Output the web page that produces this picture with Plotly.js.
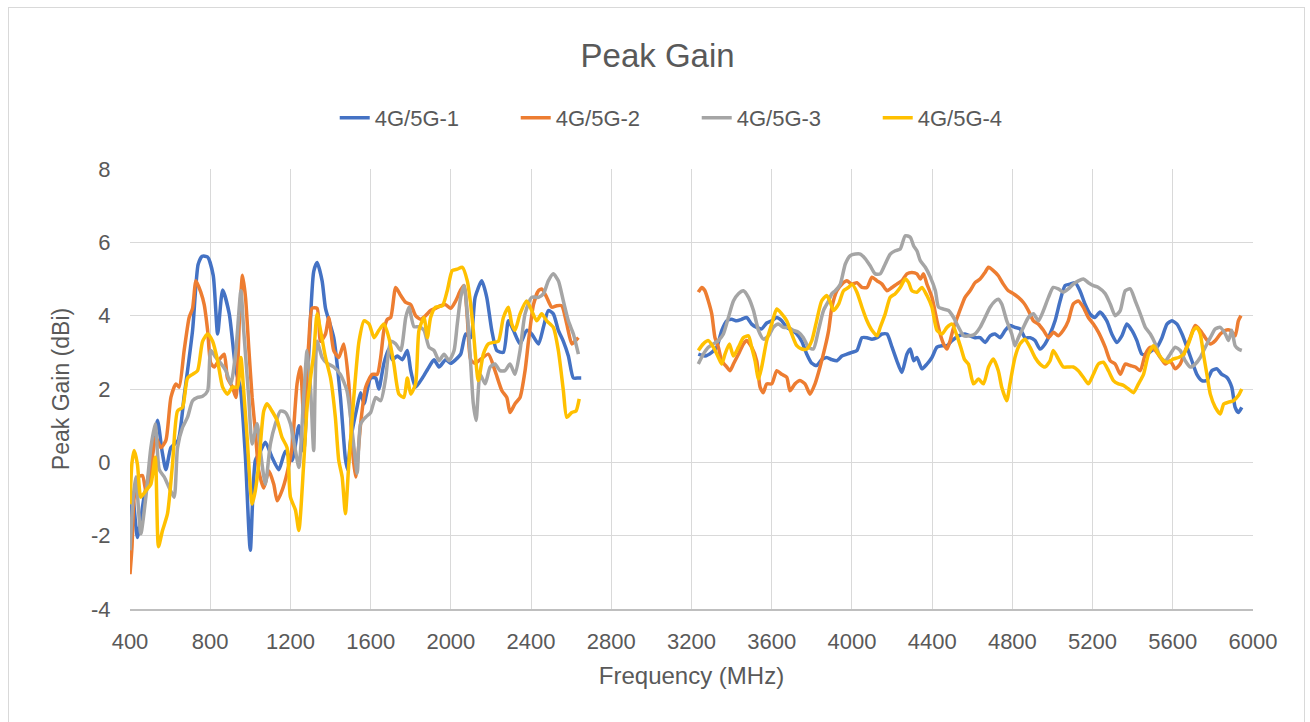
<!DOCTYPE html>
<html>
<head>
<meta charset="utf-8">
<script src="https://cdn.plot.ly/plotly-3.0.1.min.js"></script>
<style>
  html, body { margin: 0; padding: 0; background: #ffffff; }
  #wrap { position: relative; width: 1310px; height: 722px; }
  #chart { position: absolute; left: 0; top: 0; width: 1310px; height: 722px; }
  #frame { position: absolute; left: 8px; top: 7px; width: 1295px; height: 720px; border: 1px solid #d9d9d9; pointer-events: none; }
</style>
</head>
<body>
<div id="wrap"><div id="chart"></div><div id="frame"></div></div>
<script>
// Frequency (MHz) / Peak Gain (dBi). A null separates the low band from the high band.
const seriesNames = ["4G/5G-1", "4G/5G-2", "4G/5G-3", "4G/5G-4"];
const seriesColors = ["#4472C4", "#ED7D31", "#A5A5A5", "#FFC000"];

const blueFreq = [400,415,437,470,504,537,560,579,604,640,670,712,740,760,787,815,837,862,895,928,950,975,1000,1025,1050,1075,1108,1142,1175,1208,1242,1266,1291,1316,1333,1358,1375,1416,1449,1474,1485,1500,1532,1550,1567,1600,1625,1641,1666,1691,1708,1733,1758,1783,1800,1824,1858,1891,1916,1941,1974,1999,2024,2049,2074,2099,2121,2154,2179,2204,2229,2262,2287,2312,2345,2378,2403,2437,2462,2486,2511,2536,2561,2586,2611,2636,2650,
  2900,
  3234,3267,3301,3326,3351,3376,3400,3425,3450,3475,3500,3525,3550,3575,3600,3625,3650,3675,3700,3725,3750,3775,3800,3824,3849,3874,3900,3925,3950,3975,4000,4025,4050,4075,4100,4125,4150,4175,4200,4224,4249,4274,4291,4308,4324,4349,4374,4399,4424,4449,4474,4499,4532,4564,4589,4614,4639,4664,4689,4714,4739,4764,4788,4813,4838,4863,4888,4913,4938,4963,4988,5013,5038,5063,5088,5113,5137,5162,5187,5212,5237,5271,5296,5321,5346,5371,5396,5421,5446,5471,5496,5521,5546,5571,5596,5621,5646,5671,5695,5720,5745,5770,5795,5820,5844,5869,5894,5911,5927,5944];
const blueGain = [-1.6,-1.0,-2.05,-0.95,-0.05,1.15,0.3,-0.2,0.4,0.6,1.8,3.6,5.4,5.62,5.6,5.1,3.5,4.7,4.05,2.5,2.05,0.2,-2.4,0.05,0.3,0.55,0.14,-0.2,0.3,0.05,1.0,0.3,2.9,5.2,5.45,4.95,4.2,3.4,1.8,0.1,-0.2,0.6,1.5,1.9,1.6,2.3,2.3,2.0,2.7,3.1,2.8,2.9,2.8,3.05,2.5,2.05,2.3,2.6,2.8,2.6,2.8,2.7,2.8,2.95,3.5,3.4,4.5,4.95,4.5,3.6,3.05,3.0,3.86,3.6,3.23,3.6,3.5,3.23,3.7,4.14,4.05,3.6,3.3,2.9,2.3,2.3,2.3,
  null,
  2.95,2.9,3.0,3.14,3.6,3.86,3.9,3.86,3.9,3.95,3.77,3.68,3.64,3.8,3.86,3.95,3.86,3.68,3.6,3.5,3.3,2.95,2.7,2.64,2.8,2.86,2.8,2.77,2.9,2.95,3.0,3.05,3.4,3.4,3.36,3.4,3.5,3.5,3.14,2.77,2.45,2.95,3.09,2.77,2.86,2.55,2.68,2.86,3.14,3.18,3.18,3.32,3.45,3.5,3.45,3.4,3.4,3.27,3.45,3.5,3.4,3.6,3.73,3.68,3.64,3.4,3.4,3.32,3.09,3.23,3.5,3.86,4.4,4.82,4.86,4.9,4.68,4.32,4.05,3.95,4.1,3.86,3.5,3.27,3.45,3.77,3.6,3.32,2.95,2.95,3.05,3.14,3.4,3.77,3.86,3.77,3.5,3.14,2.77,2.4,2.23,2.23,2.5,2.55,2.4,2.32,2.05,1.5,1.36,1.5];

const orangeFreq = [400,410,420,440,462,480,496,529,554,579,604,629,645,670,695,712,729,753,770,787,803,820,845,870,886,911,928,945,961,976,992,1009,1025,1042,1067,1092,1117,1134,1158,1183,1208,1233,1250,1266,1291,1308,1333,1350,1375,1391,1416,1441,1466,1491,1510,1525,1550,1575,1608,1633,1650,1666,1683,1700,1725,1750,1775,1800,1824,1849,1874,1899,1924,1949,1974,1999,2024,2049,2066,2082,2099,2120,2146,2187,2220,2254,2279,2295,2320,2345,2370,2387,2412,2437,2453,2478,2503,2528,2553,2578,2603,2619,2636,
  2900,
  3234,3251,3267,3284,3301,3317,3334,3351,3376,3392,3409,3434,3459,3475,3500,3525,3542,3558,3575,3600,3625,3650,3675,3691,3716,3741,3766,3791,3816,3841,3866,3884,3900,3925,3950,3975,4000,4025,4050,4075,4100,4125,4150,4175,4200,4224,4249,4274,4299,4324,4341,4357,4374,4399,4424,4440,4457,4474,4490,4507,4532,4564,4589,4614,4639,4664,4681,4705,4730,4755,4780,4805,4830,4855,4880,4905,4930,4955,4980,5005,5029,5054,5079,5104,5129,5154,5179,5204,5229,5263,5288,5313,5338,5363,5388,5413,5438,5463,5488,5513,5538,5563,5587,5612,5637,5662,5687,5712,5737,5762,5787,5812,5837,5862,5887,5911,5927,5940];
const orangeGain = [-3.05,-2.3,-1.0,-0.4,-0.36,-0.8,-0.5,0.68,0.4,0.6,1.77,2.14,2.05,3.05,3.95,4.2,4.95,4.64,4.3,3.6,2.7,2.6,2.8,2.95,2.3,2.05,1.77,3.8,5.1,4.5,3.14,1.77,0.86,-0.23,-0.7,-0.23,-0.6,-1.05,-0.77,-0.3,0.4,2.14,2.6,1.23,3.23,4.2,4.2,3.3,3.5,3.95,3.05,2.86,3.23,2.14,0.3,-0.4,1.05,2.05,2.4,2.4,2.86,3.6,3.9,3.95,4.77,4.55,4.36,4.3,4.0,3.9,4.0,4.14,4.2,4.27,4.3,4.2,4.4,4.7,4.82,3.95,2.8,2.7,2.8,2.95,2.5,1.96,1.77,1.36,1.6,1.77,2.5,3.3,4.3,4.68,4.73,4.5,4.23,4.27,4.27,3.77,3.23,3.3,3.4,
  null,
  4.64,4.77,4.68,4.4,4.05,3.4,3.14,2.77,2.6,2.5,2.68,2.95,3.23,3.32,3.14,2.77,2.05,1.9,2.14,2.14,2.5,2.4,2.32,1.95,2.14,2.23,2.14,1.86,2.14,2.6,3.14,3.6,4.23,4.68,4.86,4.95,4.86,4.9,4.77,4.77,5.05,4.95,4.86,4.68,4.77,4.86,4.95,5.14,5.18,5.14,5.0,5.14,4.86,4.5,3.86,3.5,3.23,3.09,3.32,3.68,4.05,4.5,4.68,4.9,5.0,5.18,5.32,5.23,5.09,4.86,4.68,4.6,4.5,4.36,4.14,3.86,3.77,3.6,3.4,3.55,3.45,3.6,3.86,4.32,4.4,4.23,3.95,3.77,3.55,3.14,2.77,2.68,2.4,2.68,2.64,2.6,2.5,2.95,3.14,3.05,2.86,2.68,2.77,2.55,2.68,3.05,3.4,3.73,3.6,3.4,3.23,3.32,3.5,3.6,3.6,3.45,3.86,4.0];

const grayFreq = [400,415,429,454,479,504,526,546,571,596,620,637,662,687,712,737,762,787,803,828,853,878,903,928,953,967,992,1009,1034,1050,1075,1100,1125,1150,1175,1200,1225,1242,1266,1283,1300,1316,1333,1358,1383,1416,1449,1482,1500,1515,1533,1550,1575,1600,1625,1650,1675,1700,1725,1750,1775,1791,1816,1841,1866,1891,1916,1941,1966,1991,2016,2032,2049,2066,2082,2099,2112,2126,2146,2171,2196,2220,2245,2270,2295,2320,2345,2370,2403,2437,2462,2486,2511,2536,2561,2586,2611,2636,
  2900,
  3234,3259,3284,3309,3334,3359,3384,3409,3434,3459,3484,3509,3534,3559,3584,3608,3633,3658,3683,3708,3733,3758,3783,3808,3833,3858,3883,3900,3917,3942,3967,3992,4017,4042,4067,4091,4116,4141,4166,4191,4216,4241,4266,4291,4308,4324,4341,4366,4391,4416,4432,4457,4482,4507,4532,4557,4589,4614,4639,4664,4689,4714,4730,4747,4772,4797,4813,4830,4855,4880,4905,4930,4955,4980,5004,5029,5054,5079,5104,5129,5154,5179,5204,5229,5263,5288,5313,5338,5363,5388,5413,5438,5463,5488,5513,5538,5563,5587,5612,5637,5662,5687,5712,5737,5762,5787,5812,5837,5862,5878,5894,5911,5927,5944];
const grayGain = [-2.4,-1.0,-0.4,-1.95,-0.95,0.4,1.05,-0.2,-0.4,-0.7,-0.95,0.4,0.95,1.23,1.68,1.77,1.8,1.95,3.05,2.86,2.7,2.5,2.14,3.05,4.68,3.6,1.77,0.5,1.05,0.32,-0.6,0.5,1.05,1.4,1.36,1.05,0.32,-0.14,1.77,3.05,2.05,0.32,3.3,2.86,2.7,2.6,2.4,1.95,1.23,0.5,-0.3,1.05,1.23,1.36,1.77,1.68,2.3,3.3,3.23,3.05,3.95,4.23,3.7,3.7,3.6,3.14,3.05,2.77,2.95,2.77,3.05,3.77,4.5,4.82,4.05,2.68,1.6,1.14,2.4,2.14,2.6,2.68,2.5,2.5,2.68,2.4,3.05,4.05,4.5,4.5,4.6,4.95,5.14,4.95,4.4,3.86,3.5,2.95,
  null,
  2.68,2.95,3.14,3.23,3.32,3.5,3.95,4.4,4.6,4.68,4.5,4.14,3.6,3.36,3.45,3.68,3.77,3.68,3.68,3.6,3.55,3.4,3.14,3.09,3.6,4.14,4.4,4.6,4.68,4.86,5.41,5.64,5.68,5.68,5.55,5.36,5.14,5.14,5.41,5.68,5.77,5.82,6.18,6.14,5.9,5.77,5.5,5.32,5.05,4.68,4.23,4.18,4.14,3.95,3.68,3.45,3.45,3.5,3.68,3.95,4.23,4.4,4.45,4.32,3.86,3.5,3.18,3.4,3.68,3.95,4.05,3.86,4.14,4.5,4.77,4.73,4.64,4.73,4.86,4.95,5.0,4.9,4.82,4.77,4.6,4.32,4.0,4.14,4.68,4.73,4.4,4.05,3.68,3.5,3.23,2.86,2.77,2.95,3.14,3.05,2.77,2.6,2.68,2.86,3.14,3.4,3.64,3.68,3.5,3.32,3.6,3.18,3.09,3.05];

const yellowFreq = [400,410,421,437,454,479,504,526,542,562,587,612,637,662,687,712,737,762,787,812,837,862,886,911,936,953,967,984,1009,1025,1042,1067,1084,1108,1134,1158,1183,1200,1225,1242,1266,1283,1300,1316,1333,1350,1375,1400,1424,1441,1458,1474,1491,1516,1542,1567,1592,1617,1641,1666,1691,1716,1741,1766,1783,1800,1824,1841,1866,1883,1899,1924,1958,1982,2007,2032,2057,2082,2099,2112,2137,2162,2187,2212,2237,2262,2287,2304,2320,2345,2378,2403,2428,2453,2478,2511,2536,2561,2578,2603,2624,2640,
  2900,
  3234,3259,3284,3309,3334,3351,3367,3389,3409,3434,3459,3484,3500,3517,3534,3550,3575,3600,3625,3650,3675,3700,3725,3750,3775,3800,3824,3849,3874,3890,3908,3934,3958,3983,4000,4025,4050,4075,4100,4125,4141,4166,4191,4216,4241,4266,4283,4299,4324,4349,4374,4399,4424,4449,4474,4499,4524,4545,4562,4581,4606,4631,4656,4681,4705,4730,4747,4772,4788,4813,4838,4863,4888,4913,4938,4963,4988,5004,5029,5054,5079,5104,5129,5154,5179,5204,5229,5254,5279,5304,5329,5354,5379,5404,5429,5454,5479,5504,5529,5554,5578,5603,5629,5654,5678,5703,5720,5737,5753,5770,5787,5812,5837,5854,5878,5903,5927,5944];
const yellowGain = [-1.14,0.0,0.32,-0.05,-0.95,-0.77,-0.6,0.14,-2.3,-1.86,-1.4,-0.05,1.4,1.5,2.3,2.4,2.5,3.3,3.5,3.3,2.77,2.05,1.86,2.05,2.05,2.86,1.95,0.68,-1.14,-0.77,-0.05,1.4,1.6,1.4,1.14,0.68,0.4,-0.95,-1.3,-1.86,-0.05,1.5,2.3,2.95,4.05,3.6,2.86,2.3,1.23,0.05,-0.4,-1.4,-0.05,1.77,3.3,3.86,3.77,3.4,3.6,3.77,3.4,2.68,1.86,1.77,2.3,1.86,2.14,3.6,3.95,3.4,3.95,4.23,4.27,4.68,5.23,5.27,5.32,4.95,4.3,3.6,2.23,2.95,3.23,3.27,3.3,3.95,4.23,3.77,3.6,4.05,4.4,4.14,3.86,4.05,3.86,3.68,3.05,1.96,1.23,1.36,1.4,1.73,
  null,
  3.05,3.23,3.32,3.14,2.86,2.68,2.95,3.23,2.9,3.14,3.4,3.45,3.14,2.77,2.27,2.6,3.32,3.77,4.18,4.05,3.86,3.5,3.18,3.09,3.09,3.32,3.86,4.4,4.55,4.4,4.14,4.32,4.68,4.77,4.86,4.64,4.23,3.86,3.6,3.45,3.68,4.05,4.5,4.6,4.77,5.0,4.9,4.68,4.64,4.77,4.55,4.23,3.6,3.5,3.68,3.77,3.45,3.1,2.8,2.68,2.14,2.27,2.14,2.6,2.82,2.5,2.05,1.68,2.14,2.86,3.23,3.36,3.14,2.86,2.68,2.6,2.77,3.05,2.82,2.6,2.6,2.6,2.5,2.32,2.14,2.4,2.68,2.73,2.5,2.23,2.14,2.1,2.0,1.9,2.14,2.4,2.95,3.18,2.95,2.77,2.73,2.82,2.86,2.95,3.23,3.6,3.68,3.5,2.95,2.4,1.86,1.5,1.32,1.59,1.64,1.68,1.82,2.0];

const xTickVals = [400,800,1200,1600,2000,2400,2800,3200,3600,4000,4400,4800,5200,5600,6000];
const yTickVals = [-4,-2,0,2,4,6,8];

const freqs = [blueFreq, orangeFreq, grayFreq, yellowFreq];
const gains = [blueGain, orangeGain, grayGain, yellowGain];

const font = "Liberation Sans, Arial, sans-serif";
const textColor = "#595959";

const traces = seriesNames.map((name, i) => ({
  type: "scatter",
  mode: "lines",
  name: name,
  x: freqs[i],
  y: gains[i],
  connectgaps: false,
  line: { color: seriesColors[i], width: 3.5, shape: "spline", smoothing: 0.6 },
  hoverinfo: "x+y+name"
}));

const layout = {
  width: 1310,
  height: 722,
  paper_bgcolor: "#ffffff",
  plot_bgcolor: "#ffffff",
  margin: { l: 130, r: 57, t: 169, b: 113 },
  font: { family: font, color: textColor, size: 22 },
  title: {
    text: "Peak Gain",
    font: { family: font, size: 33, color: textColor },
    x: 0.502, xref: "container", xanchor: "center",
    y: 1 - 55 / 722, yref: "container", yanchor: "middle"
  },
  showlegend: true,
  legend: {
    orientation: "h",
    x: 0.1823, xanchor: "left",
    y: 1.116, yanchor: "middle",
    font: { family: font, size: 22, color: textColor },
    entrywidth: 136,
    entrywidthmode: "pixels",
    bgcolor: "rgba(0,0,0,0)",
    traceorder: "normal"
  },
  xaxis: {
    range: [400, 6000],
    tickvals: xTickVals,
    ticktext: xTickVals.map(String),
    showgrid: true,
    gridcolor: "#d9d9d9",
    gridwidth: 1,
    showline: true,
    linecolor: "#bfbfbf",
    linewidth: 1.5,
    zeroline: false,
    ticks: "outside",
    ticklen: 12,
    tickcolor: "rgba(0,0,0,0)",
    tickfont: { family: font, size: 22, color: textColor },
    title: { text: "Frequency (MHz)", font: { family: font, size: 24, color: textColor }, standoff: 14 },
    automargin: false
  },
  yaxis: {
    range: [-4, 8],
    tickvals: yTickVals,
    ticktext: yTickVals.map(String),
    showgrid: true,
    gridcolor: "#d9d9d9",
    gridwidth: 1,
    showline: false,
    zeroline: false,
    ticks: "outside",
    ticklen: 14,
    tickcolor: "rgba(0,0,0,0)",
    tickfont: { family: font, size: 22, color: textColor },
    title: { text: "Peak Gain (dBi)", font: { family: font, size: 23, color: textColor }, standoff: 14 },
    automargin: false
  }
};

Plotly.newPlot("chart", traces, layout, { displayModeBar: false, staticPlot: false });
</script>
</body>
</html>
